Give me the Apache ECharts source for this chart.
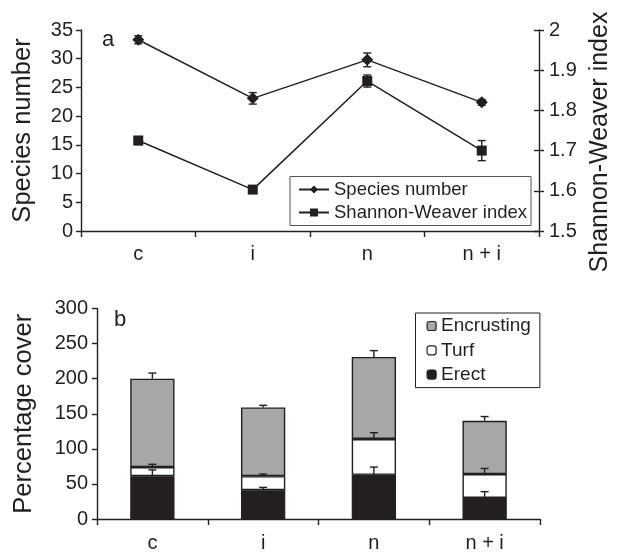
<!DOCTYPE html>
<html>
<head>
<meta charset="utf-8">
<script src="https://cdn.jsdelivr.net/npm/echarts@6/dist/echarts.min.js"></script>
<style>
html,body{margin:0;padding:0;background:#fff;}
#chart{width:619px;height:553px;}
</style>
</head>
<body>
<div id="chart"></div>
<script>
// ---------- data ----------
var categories = ['c', 'i', 'n', 'n + i'];
// panel a
var speciesNumber = [33.3, 23.1, 29.8, 22.4];
var speciesErr = [0.7, 1.0, 1.2, 0.5];
var shannonIndex = [1.725, 1.603, 1.873, 1.700];
var shannonErr = [0.010, 0.007, 0.015, 0.025];
var speciesTicks = [0, 35, 5];      // min, max, interval
var shannonTicks = [1.5, 2.0, 0.1];
// panel b
var erect = [61, 41, 63, 30];
var erectErr = [9, 4, 11, 9];
var turf = [13, 20, 51, 34];
var turfErr = [4, 3, 9, 8];
var encrusting = [126, 98, 117, 76];
var encrustingErr = [8, 3, 9, 6];
var coverTicks = [0, 300, 50];

var INK = '#231f20';
var FONT = 'Liberation Sans, Arial, Helvetica, sans-serif';

function errBars(vals, errs, base) {
  return categories.map(function (c, i) {
    var b = base ? base[i] : 0;
    return [i, b + vals[i], errs[i]];
  });
}
function makeErrRender(both, half) {
  return function (params, api) {
    var x = api.value(0), y = api.value(1), e = api.value(2);
    var top = api.coord([x, y + e]);
    var bot = api.coord([x, both ? y - e : y]);
    var st = { stroke: INK, lineWidth: 1.4 };
    var ch = [
      { type: 'line', shape: { x1: top[0], y1: top[1], x2: bot[0], y2: bot[1] }, style: st },
      { type: 'line', shape: { x1: top[0] - half, y1: top[1], x2: top[0] + half, y2: top[1] }, style: st }
    ];
    if (both) ch.push({ type: 'line', shape: { x1: bot[0] - half, y1: bot[1], x2: bot[0] + half, y2: bot[1] }, style: st });
    return { type: 'group', children: ch };
  };
}
var cumTurf = erect.map(function (v, i) { return v + turf[i]; });

var axisLineStyle = { color: INK, width: 1.4 };
var tickLabel = { color: INK, fontSize: 20, fontFamily: FONT };
var nameStyle = { color: INK, fontSize: 25.5, fontFamily: FONT };

var chart = echarts.init(document.getElementById('chart'), null, { renderer: 'canvas' });
chart.setOption({
  animation: false,
  backgroundColor: '#fff',
  grid: [
    { left: 81, right: 80, top: 30, height: 201 },
    { left: 97, right: 79, top: 308.5, height: 217.5 }
  ],
  xAxis: [
    { type: 'category', gridIndex: 0, data: categories, boundaryGap: true,
      axisLine: { lineStyle: axisLineStyle }, axisTick: { show: true, length: 6, lineStyle: axisLineStyle },
      axisLabel: Object.assign({ margin: 13 }, tickLabel), splitLine: { show: false } },
    { type: 'category', gridIndex: 1, data: categories, boundaryGap: true,
      axisLine: { lineStyle: axisLineStyle }, axisTick: { show: true, length: 6, lineStyle: axisLineStyle },
      axisLabel: Object.assign({ margin: 14 }, tickLabel), splitLine: { show: false } }
  ],
  yAxis: [
    { type: 'value', gridIndex: 0, position: 'left', min: speciesTicks[0], max: speciesTicks[1], interval: speciesTicks[2],
      name: 'Species number', nameLocation: 'middle', nameGap: 45, nameRotate: 90, nameTextStyle: nameStyle,
      axisLine: { show: true, lineStyle: axisLineStyle }, axisTick: { show: true, length: 5, lineStyle: axisLineStyle },
      axisLabel: Object.assign({ margin: 8 }, tickLabel), splitLine: { show: false } },
    { type: 'value', gridIndex: 0, position: 'right', min: shannonTicks[0], max: shannonTicks[1], interval: shannonTicks[2],
      axisLine: { show: true, lineStyle: axisLineStyle }, axisTick: { show: true, length: 5, lineStyle: axisLineStyle },
      axisLabel: Object.assign({ margin: 10, formatter: function (v) { return String(Math.round(v * 10) / 10); } }, tickLabel),
      splitLine: { show: false } },
    { type: 'value', gridIndex: 0, position: 'right', min: shannonTicks[0], max: shannonTicks[1], interval: shannonTicks[2],
      axisLine: { show: false }, axisTick: { show: true, inside: true, length: 5, lineStyle: axisLineStyle },
      axisLabel: { show: false }, splitLine: { show: false } },
    { type: 'value', gridIndex: 1, min: coverTicks[0], max: coverTicks[1], interval: coverTicks[2],
      name: 'Percentage cover', nameLocation: 'middle', nameGap: 60, nameRotate: 90, nameTextStyle: nameStyle,
      axisLine: { show: true, lineStyle: axisLineStyle }, axisTick: { show: true, length: 5, lineStyle: axisLineStyle },
      axisLabel: Object.assign({ margin: 9 }, tickLabel), splitLine: { show: false } }
  ],
  legend: [
    { data: ['Species number', 'Shannon-Weaver index'], orient: 'vertical', left: 290, top: 176.5,
      itemWidth: 30, itemHeight: 10, itemGap: 3, padding: [3, 4, 3, 8],
      borderColor: '#555', borderWidth: 1, backgroundColor: '#fff',
      textStyle: { color: INK, fontSize: 18.5, fontFamily: FONT, lineHeight: 20 } },
    { data: ['Encrusting', 'Turf', 'Erect'], orient: 'vertical', left: 415.5, top: 313,
      itemWidth: 9, itemHeight: 9, itemGap: 4.3, padding: [3, 9, 3, 11],
      borderColor: INK, borderWidth: 1, backgroundColor: '#fff',
      itemStyle: { borderColor: INK, borderWidth: 1.2 },
      textStyle: { color: INK, fontSize: 19, fontFamily: FONT, lineHeight: 20 } }
  ],
  graphic: [
    { type: 'text', left: 102, top: 29, style: { text: 'a', fill: INK, font: '22px ' + FONT } },
    { type: 'text', left: 114, top: 309, style: { text: 'b', fill: INK, font: '22px ' + FONT } },
    { type: 'text', x: 600, y: 142, rotation: Math.PI / 2,
      style: { text: 'Shannon-Weaver index', fill: INK, font: '25px ' + FONT, align: 'center', verticalAlign: 'middle' } }
  ],
  series: [
    { name: 'Species number', type: 'line', xAxisIndex: 0, yAxisIndex: 0, data: speciesNumber,
      symbol: 'diamond', symbolSize: 12, lineStyle: { color: INK, width: 1.5 }, itemStyle: { color: INK }, z: 3 },
    { name: 'Shannon-Weaver index', type: 'line', xAxisIndex: 0, yAxisIndex: 1, data: shannonIndex,
      symbol: 'rect', symbolSize: 10, lineStyle: { color: INK, width: 1.5 }, itemStyle: { color: INK }, z: 3 },
    { type: 'custom', xAxisIndex: 0, yAxisIndex: 0, data: errBars(speciesNumber, speciesErr, null),
      renderItem: makeErrRender(true, 4), z: 4, silent: true },
    { type: 'custom', xAxisIndex: 0, yAxisIndex: 1, data: errBars(shannonIndex, shannonErr, null),
      renderItem: makeErrRender(true, 4), z: 4, silent: true },

    { name: 'Erect', type: 'bar', stack: 'cover', xAxisIndex: 1, yAxisIndex: 3, data: erect, barWidth: '40%',
      itemStyle: { color: INK, borderColor: INK, borderWidth: 1.2 } },
    { name: 'Turf', type: 'bar', stack: 'cover', xAxisIndex: 1, yAxisIndex: 3, data: turf, barWidth: '40%',
      itemStyle: { color: '#ffffff', borderColor: INK, borderWidth: 1.4 } },
    { name: 'Encrusting', type: 'bar', stack: 'cover', xAxisIndex: 1, yAxisIndex: 3, data: encrusting, barWidth: '40%',
      itemStyle: { color: '#a6a7a9', borderColor: INK, borderWidth: 1.4 } },
    { type: 'custom', xAxisIndex: 1, yAxisIndex: 3, data: errBars(erect, erectErr, null),
      renderItem: makeErrRender(false, 4), z: 5, silent: true },
    { type: 'custom', xAxisIndex: 1, yAxisIndex: 3, data: errBars(turf, turfErr, erect),
      renderItem: makeErrRender(false, 4), z: 5, silent: true },
    { type: 'custom', xAxisIndex: 1, yAxisIndex: 3, data: errBars(encrusting, encrustingErr, cumTurf),
      renderItem: makeErrRender(false, 4), z: 5, silent: true }
  ]
});
</script>
</body>
</html>
